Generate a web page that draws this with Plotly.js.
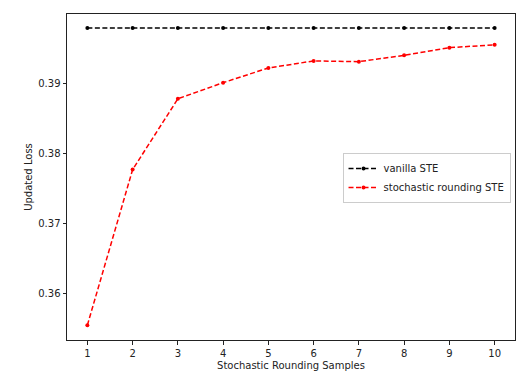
<!DOCTYPE html>
<html>
<head>
<meta charset="utf-8">
<script src="https://cdn.plot.ly/plotly-3.0.1.min.js"></script>
<style>html,body{margin:0;padding:0;background:#fff;}#chart{width:532px;height:379px;}</style>
</head>
<body>
<div id="chart"></div>
<script>
const samples = [1, 2, 3, 4, 5, 6, 7, 8, 9, 10];
const vanillaSTE = [0.3979, 0.3979, 0.3979, 0.3979, 0.3979, 0.3979, 0.3979, 0.3979, 0.3979, 0.3979];
const stochasticSTE = [0.3555, 0.3777, 0.3878, 0.3901, 0.3922, 0.3932, 0.3931, 0.3940, 0.3951, 0.3955];
const yTicks = [0.36, 0.37, 0.38, 0.39];

const font = {family: 'DejaVu Sans', size: 10, color: '#222'};

const traces = [
  {x: samples, y: vanillaSTE, name: 'vanilla STE', mode: 'lines+markers',
   line: {color: 'black', dash: '5px,2.5px', width: 1.5}, marker: {color: 'black', size: 4}},
  {x: samples, y: stochasticSTE, name: 'stochastic rounding STE', mode: 'lines+markers',
   line: {color: 'red', dash: '5px,2.5px', width: 1.5}, marker: {color: 'red', size: 4}}
];

const layout = {
  width: 532, height: 379,
  margin: {l: 67, r: 17, t: 14, b: 39},
  paper_bgcolor: '#fff', plot_bgcolor: '#fff',
  font: font,
  showlegend: true,
  legend: {x: 0.99, y: 0.574, xanchor: 'right', yanchor: 'top',
           bordercolor: '#ccc', borderwidth: 1, bgcolor: 'rgba(255,255,255,0.8)',
           font: font, tracegroupgap: 0, itemwidth: 30},
  xaxis: {range: [0.55, 10.45], tickvals: samples, ticks: 'outside', ticklen: 3.5,
          tickcolor: '#222', showgrid: false, zeroline: false, showline: true, mirror: true,
          linecolor: '#222', linewidth: 1, tickfont: font,
          title: {text: 'Stochastic Rounding Samples', font: font, standoff: 4}},
  yaxis: {range: [0.35339, 0.3999], tickvals: yTicks, ticktext: yTicks.map(v => v.toFixed(2)),
          ticks: 'outside', ticklen: 3.5,
          tickcolor: '#222', showgrid: false, zeroline: false, showline: true, mirror: true,
          linecolor: '#222', linewidth: 1, tickfont: font,
          title: {text: 'Updated Loss', font: font, standoff: 3}}
};

Plotly.newPlot('chart', traces, layout, {displayModeBar: false, staticPlot: true});
</script>
</body>
</html>
